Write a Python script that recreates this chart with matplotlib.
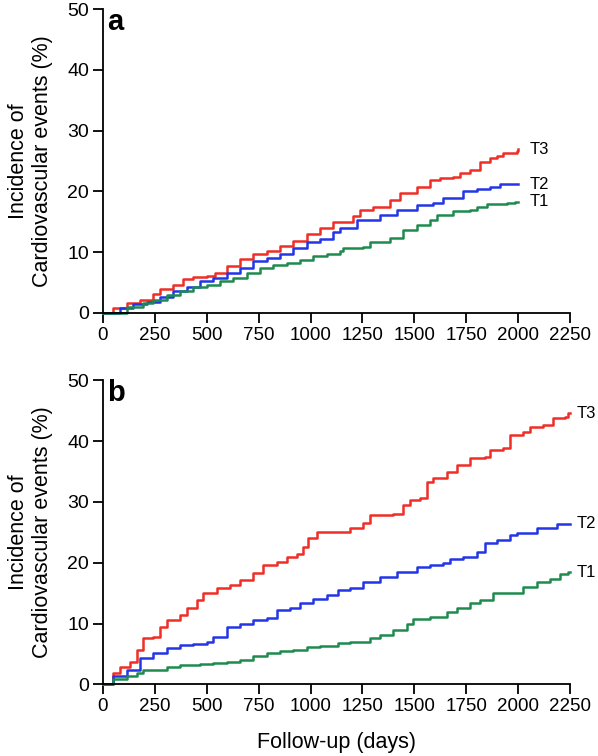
import matplotlib.pyplot as plt

plt.rcParams['font.family'] = ['Liberation Sans', 'DejaVu Sans']

# panel a: follow-up (days) and cumulative incidence (%)
a_t3_days = [0, 50, 114, 178, 242, 275, 339, 387, 435, 500, 540, 596, 660, 724, 789, 853, 917, 981, 1045,
             1110, 1206, 1238, 1302, 1383, 1431, 1511, 1575, 1624, 1688, 1720, 1768, 1816, 1865, 1897, 1929,
             1993, 2000]
a_t3_pct = [0, 0.8, 1.6, 2.1, 3.1, 4.0, 4.6, 5.6, 6.0, 6.1, 6.5, 7.8, 8.9, 9.7, 10.2, 11.1, 11.9, 13.0, 14.0,
            14.9, 15.9, 17.0, 17.5, 18.6, 19.7, 20.8, 21.9, 22.2, 22.3, 23.0, 23.6, 24.9, 25.5, 25.8, 26.4,
            26.6, 26.9]
a_t2_days = [0, 82, 146, 210, 275, 339, 403, 467, 531, 596, 660, 724, 789, 853, 917, 981, 1045, 1110, 1142,
             1222, 1335, 1415, 1511, 1591, 1640, 1736, 1800, 1865, 1913, 2000]
a_t2_pct = [0, 0.8, 1.4, 1.8, 2.7, 3.6, 4.3, 5.2, 5.7, 6.5, 7.4, 8.5, 9.0, 9.7, 10.7, 11.6, 12.2, 13.3, 14.0,
            15.3, 16.1, 17.0, 17.8, 18.1, 18.9, 20.0, 20.4, 20.8, 21.2, 21.2]
a_t1_days = [0, 114, 194, 242, 307, 371, 435, 500, 564, 628, 692, 756, 821, 885, 949, 1013, 1078, 1142, 1158,
             1254, 1286, 1383, 1447, 1511, 1575, 1608, 1688, 1768, 1800, 1849, 1945, 1985, 2000]
a_t1_pct = [0, 1.0, 1.6, 2.1, 3.0, 3.6, 4.2, 4.6, 5.2, 5.7, 6.5, 7.4, 7.9, 8.2, 8.7, 9.3, 9.7, 10.2, 10.7,
            10.9, 11.7, 12.3, 13.7, 14.5, 15.3, 16.1, 16.7, 17.0, 17.5, 18.0, 18.1, 18.3, 18.3]

# panel b
b_t3_days = [0, 50, 82, 130, 162, 194, 242, 275, 307, 371, 403, 451, 483, 548, 612, 660, 724, 772, 837, 885,
             933, 965, 989, 1030, 1190, 1254, 1286, 1399, 1447, 1479, 1527, 1559, 1591, 1656, 1704, 1768,
             1840, 1865, 1929, 1961, 2025, 2057, 2121, 2170, 2226, 2242, 2250]
b_t3_pct = [0, 1.8, 2.9, 3.7, 5.6, 7.6, 7.8, 9.5, 10.6, 11.4, 12.5, 13.9, 15.0, 15.8, 16.3, 17.2, 18.3, 19.6,
            20.2, 21.0, 21.5, 22.6, 24.0, 25.1, 25.7, 26.5, 27.8, 28.1, 29.5, 30.3, 30.6, 33.3, 33.9, 35.0,
            36.1, 37.3, 37.4, 38.5, 38.8, 41.0, 41.5, 42.4, 42.6, 43.8, 44.0, 44.6, 44.6]
b_t2_days = [0, 50, 114, 178, 242, 307, 371, 435, 500, 531, 596, 660, 724, 789, 837, 901, 949, 1013, 1078,
             1134, 1190, 1254, 1335, 1415, 1511, 1575, 1640, 1672, 1736, 1800, 1840, 1897, 1961, 1993, 2090,
             2186, 2250]
b_t2_pct = [0, 1.3, 2.4, 4.3, 5.1, 5.9, 6.5, 6.7, 7.0, 7.8, 9.5, 10.0, 10.6, 10.9, 12.2, 12.5, 13.3, 14.1,
            14.7, 15.5, 15.8, 16.9, 17.7, 18.5, 19.3, 19.6, 19.9, 20.6, 21.0, 21.8, 23.2, 23.7, 24.6, 24.9,
            25.7, 26.4, 26.4]
b_t1_days = [0, 50, 114, 162, 194, 307, 371, 467, 531, 596, 660, 724, 789, 853, 917, 981, 1045, 1134, 1190,
             1286, 1335, 1399, 1463, 1495, 1575, 1656, 1704, 1768, 1816, 1881, 2025, 2090, 2154, 2202, 2242,
             2250]
b_t1_pct = [0, 0.8, 1.3, 1.8, 2.4, 2.8, 3.2, 3.3, 3.5, 3.7, 4.0, 4.7, 5.1, 5.5, 5.7, 6.1, 6.3, 6.8, 7.0,
            7.6, 8.1, 8.9, 10.0, 10.7, 11.1, 11.9, 12.5, 13.3, 13.9, 15.1, 16.0, 16.9, 17.4, 18.1, 18.4, 18.4]

labels = ['T3', 'T2', 'T1']
colors = ['#ef2e28', '#2335e4', '#1f8a4e']
x_ticks = [0, 250, 500, 750, 1000, 1250, 1500, 1750, 2000, 2250]
y_ticks = [0, 10, 20, 30, 40, 50]

panels = [
    ('a', [(a_t3_days, a_t3_pct), (a_t2_days, a_t2_pct), (a_t1_days, a_t1_pct)]),
    ('b', [(b_t3_days, b_t3_pct), (b_t2_days, b_t2_pct), (b_t1_days, b_t1_pct)]),
]

fig = plt.figure(figsize=(5.98, 7.56), dpi=100)
ax_a = fig.add_axes([0.1722, 0.586, 0.781, 0.402])
ax_b = fig.add_axes([0.1722, 0.0948, 0.781, 0.402])

for ax, (letter, curves) in zip([ax_a, ax_b], panels):
    gap = 8 if letter == 'a' else 5
    for (d, p), lab, col in zip(curves, labels, colors):
        ax.plot(d, p, drawstyle='steps-post', color=col, lw=1.8, clip_on=False)
        ax.annotate(lab, (d[-1], p[-1]), xytext=(gap, 0), textcoords='offset points',
                    fontsize=12, va='center', ha='left', annotation_clip=False)
    ax.set_xlim(0, 2250)
    ax.set_ylim(0, 50)
    ax.set_xticks(x_ticks)
    ax.set_yticks(y_ticks)
    ax.spines['top'].set_visible(False)
    ax.spines['right'].set_visible(False)
    ax.spines['left'].set_linewidth(1.3)
    ax.spines['bottom'].set_linewidth(1.3)
    ax.tick_params(length=7, width=1.3, pad=3)
    ax.tick_params(axis='x', labelsize=13.5)
    ax.tick_params(axis='y', labelsize=14)
    ax.set_ylabel('Incidence of\nCardiovascular events (%)', fontsize=15.5, linespacing=1.15)
    ax.yaxis.set_label_coords(-0.108, 0.5)
    ax.text(0.009, 1.005, letter, transform=ax.transAxes, fontsize=21, fontweight='bold', va='top', ha='left')

ax_b.set_xlabel('Follow-up (days)', fontsize=15.5, labelpad=12)

fig.savefig('out.png', dpi=100)
